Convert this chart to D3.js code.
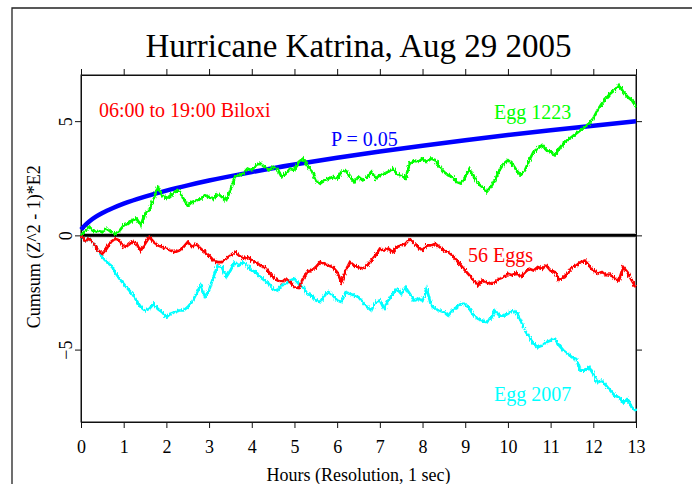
<!DOCTYPE html>
<html>
<head>
<meta charset="utf-8">
<script src="https://cdn.jsdelivr.net/npm/d3@7"></script>
<style>
  html, body { margin: 0; padding: 0; background: #fff; }
  svg { display: block; }
  text { font-family: "Liberation Serif", "Times New Roman", serif; }
</style>
</head>
<body>
<script>
// Cumulative deviation (Z^2 - 1), sampled every 6 minutes (0.1 h) from 0 to 13 h
const sampleStepHours = 0.1;

const egg1223 = [0, 0.2, 0.37, 0.15, 0.2, 0.15, 0.3, 0.15, 0.07, 0.2,
  0.44, 0.5, 0.66, 0.73, 0.44, 0.95, 1.1, 1.6, 2.1, 1.75,
  1.6, 1.75, 1.9, 1.97, 1.6, 1.3, 1.46, 1.53, 1.6, 1.75,
  1.68, 1.6, 1.83, 1.68, 1.53, 1.97, 2.56, 2.63, 2.7, 2.92,
  2.85, 3.07, 3.14, 3.0, 2.85, 3.0, 2.92, 2.56, 2.7, 2.92,
  2.85, 3.22, 3.36, 3.07, 2.85, 2.41, 2.27, 2.41, 2.49, 2.56,
  2.49, 2.78, 2.85, 2.56, 2.34, 2.56, 2.41, 2.56, 2.78, 2.49,
  2.63, 2.7, 2.78, 2.92, 2.7, 2.63, 2.49, 3.14, 3.29, 3.22,
  3.36, 3.22, 3.36, 3.29, 3.0, 2.78, 2.63, 2.56, 2.34, 2.27,
  2.56, 2.92, 2.56, 2.27, 2.12, 1.9, 2.12, 2.41, 2.85, 3.14,
  3.29, 3.14, 2.85, 2.63, 2.85, 3.29, 3.65, 3.8, 3.95, 3.73,
  3.65, 3.51, 3.8, 4.02, 4.17, 4.31, 4.46, 4.6, 4.75, 4.9,
  5.12, 5.48, 5.77, 6.0, 6.21, 6.36, 6.58, 6.29, 6.07, 5.92, 5.63];

const eggs56 = [-0.05, -0.22, -0.15, -0.37, -0.66, -0.8, -0.58, -0.29, -0.15, -0.22,
  -0.51, -0.44, -0.29, -0.37, -0.66, -0.37, -0.07, -0.29, -0.44, -0.51,
  -0.58, -0.66, -0.73, -0.66, -0.51, -0.29, -0.51, -0.37, -0.58, -0.73,
  -0.88, -1.1, -1.17, -1.17, -1.02, -0.88, -0.73, -0.88, -1.02, -0.95,
  -1.1, -1.17, -1.32, -1.39, -1.61, -1.83, -1.97, -2.05, -1.9, -2.05,
  -2.27, -2.3, -1.9, -1.6, -1.54, -1.39, -1.17, -1.24, -1.32, -1.39,
  -1.61, -2.05, -1.54, -1.17, -1.32, -1.39, -1.46, -1.32, -1.1, -0.88,
  -0.58, -0.66, -0.58, -0.73, -0.51, -0.44, -0.37, -0.15, -0.37, -0.51,
  -0.66, -0.44, -0.44, -0.37, -0.51, -0.66, -0.73, -0.88, -1.1, -1.32,
  -1.54, -1.75, -1.97, -2.19, -1.97, -2.05, -2.12, -2.05, -1.9, -1.83,
  -1.68, -1.75, -1.61, -1.83, -1.61, -1.46, -1.54, -1.39, -1.46, -1.32,
  -1.54, -1.61, -1.97, -1.83, -1.68, -1.39, -1.32, -1.17, -1.1, -1.32,
  -1.54, -1.68, -1.61, -1.75, -1.68, -1.9, -1.97, -1.39, -1.61, -1.97, -2.27];

const egg2007 = [-0.07, -0.22, -0.15, -0.37, -0.66, -0.95, -1.17, -1.32, -1.61, -1.9,
  -2.12, -2.34, -2.56, -2.85, -3.14, -3.29, -3.22, -3.0, -3.22, -3.36,
  -3.58, -3.43, -3.36, -3.29, -3.29, -3.14, -2.92, -2.56, -2.19, -2.7,
  -2.41, -1.83, -1.32, -1.39, -1.83, -1.54, -1.17, -1.32, -1.17, -1.32,
  -1.54, -1.61, -1.83, -1.97, -2.12, -2.34, -2.41, -2.19, -2.12, -1.97,
  -1.9, -2.12, -2.27, -2.56, -2.63, -2.85, -2.92, -2.63, -2.49, -2.63,
  -2.85, -2.92, -2.49, -2.56, -2.63, -2.7, -2.92, -3.14, -3.29, -2.92,
  -2.85, -3.22, -2.85, -2.56, -2.34, -2.56, -2.27, -2.56, -2.85, -2.78,
  -2.85, -2.34, -3.07, -3.22, -3.29, -3.36, -3.51, -3.29, -3.14, -3.0,
  -3.0, -3.22, -3.51, -3.65, -3.73, -3.8, -3.65, -3.29, -3.51, -3.51,
  -3.43, -3.29, -3.36, -3.73, -4.17, -4.46, -4.75, -4.9, -4.82, -4.68,
  -4.6, -4.53, -4.82, -5.04, -5.19, -5.34, -5.41, -5.92, -5.92, -5.77,
  -6.07, -6.43, -6.36, -6.58, -6.8, -7.02, -7.09, -7.31, -7.16, -7.53, -7.68];

// P = 0.05 envelope
const envelopeHours  = [0, 0.05, 0.1, 0.2, 0.35, 0.5, 0.75, 1, 1.5, 2, 2.5, 3, 4, 5, 6, 7, 8, 9, 10, 11, 12, 13];
const envelopeValues = [0.25, 0.35, 0.45, 0.62, 0.82, 0.98, 1.2, 1.39, 1.7, 1.96, 2.19, 2.4, 2.77, 3.1, 3.4, 3.67, 3.92, 4.16, 4.39, 4.6, 4.8, 5.0];

const hourTicks = [0, 1, 2, 3, 4, 5, 6, 7, 8, 9, 10, 11, 12, 13];
const valueTicks = [-5, 0, 5];

const W = 692, H = 484;
const margin = { left: 81, right: 56, top: 75, bottom: 62 };

const svg = d3.select("body").append("svg").attr("width", W).attr("height", H);

// fine-grained jitter so the per-second traces read as ragged strokes
const defs = svg.append("defs");
const rough = defs.append("filter").attr("id", "rough")
  .attr("x", "-2%").attr("y", "-5%").attr("width", "104%").attr("height", "110%");
rough.append("feTurbulence").attr("type", "fractalNoise")
  .attr("baseFrequency", "0.9 0.25").attr("numOctaves", 2).attr("seed", 7).attr("result", "noise");
rough.append("feDisplacementMap").attr("in", "SourceGraphic").attr("in2", "noise")
  .attr("scale", 4).attr("xChannelSelector", "R").attr("yChannelSelector", "G");

// page frame
svg.append("path")
  .attr("d", `M12,${H} L12,8 L${W},8`)
  .attr("fill", "none").attr("stroke", "#222").attr("stroke-width", 1.3);

const x = d3.scaleLinear().domain([0, 13]).range([margin.left, W - margin.right]);
const y = d3.scaleLinear().domain([-8.17, 7.02]).range([H - margin.bottom, margin.top]);

const tickLen = 6;

// axes on all four sides
svg.append("g").attr("transform", `translate(0,${y.range()[0]})`)
  .call(d3.axisBottom(x).tickValues(hourTicks).tickSize(tickLen).tickSizeOuter(0).tickPadding(12))
  .call(g => g.selectAll("text").attr("font-size", 18).attr("fill", "#000").attr("font-family", "Liberation Serif, serif"));
svg.append("g").attr("transform", `translate(0,${y.range()[1]})`)
  .call(d3.axisTop(x).tickValues(hourTicks).tickSize(tickLen).tickSizeOuter(0).tickFormat(""));
svg.append("g").attr("transform", `translate(${x.range()[0]},0)`)
  .call(d3.axisLeft(y).tickValues(valueTicks).tickSize(tickLen).tickSizeOuter(0))
  .call(g => g.selectAll("text")
    .attr("font-size", 18).attr("fill", "#000").attr("font-family", "Liberation Serif, serif")
    .attr("text-anchor", "middle").attr("dy", null).attr("x", null)
    .attr("transform", `translate(${-tickLen - 3},0) rotate(-90)`));
svg.append("g").attr("transform", `translate(${x.range()[1]},0)`)
  .call(d3.axisRight(y).tickValues(valueTicks).tickSize(tickLen).tickSizeOuter(0).tickFormat(""));
svg.selectAll(".domain").attr("stroke", "#111");
svg.selectAll(".tick line").attr("stroke", "#111");

// box edges (the axis domains skip the outer ticks)
svg.append("rect")
  .attr("x", x.range()[0]).attr("y", y.range()[1])
  .attr("width", x.range()[1] - x.range()[0]).attr("height", y.range()[0] - y.range()[1])
  .attr("fill", "none").attr("stroke", "#111").attr("stroke-width", 1);

// zero line
svg.append("line")
  .attr("x1", x(0)).attr("x2", x(13)).attr("y1", y(0)).attr("y2", y(0))
  .attr("stroke", "#bbb").attr("stroke-width", 4.5);
svg.append("line")
  .attr("x1", x(0)).attr("x2", x(13)).attr("y1", y(0)).attr("y2", y(0))
  .attr("stroke", "#000").attr("stroke-width", 2.6);

const plot = svg.append("g");

// envelope
plot.append("path")
  .datum(envelopeHours.map((h, i) => [h, envelopeValues[i]]))
  .attr("fill", "none").attr("stroke", "#0000ff").attr("stroke-width", 4.5)
  .attr("d", d3.line().x(d => x(d[0])).y(d => y(d[1])).curve(d3.curveMonotoneX));

const seriesLine = d3.line().x((d, i) => x(i * sampleStepHours)).y(d => y(d));
const series = [
  { values: egg2007, color: "#00ffff" },
  { values: eggs56,  color: "#ff0000" },
  { values: egg1223, color: "#00ff00" }
];
plot.selectAll("path.series").data(series).join("path")
  .attr("class", "series")
  .attr("fill", "none").attr("stroke", d => d.color).attr("stroke-width", 2.7)
  .attr("stroke-linejoin", "miter")
  .attr("filter", "url(#rough)")
  .attr("d", d => seriesLine(d.values));

// labels
const label = (txt, xx, yy, color, size, anchor) =>
  svg.append("text").text(txt).attr("x", xx).attr("y", yy)
    .attr("fill", color).attr("font-size", size).attr("text-anchor", anchor || "start");

label("Hurricane Katrina, Aug 29 2005", (x.range()[0] + x.range()[1]) / 2, 57, "#000", 33, "middle");
label("06:00 to 19:00 Biloxi", 99, 116.5, "#ff0000", 20);
label("P = 0.05", 331, 145.5, "#0000ff", 20);
label("Egg 1223", 494, 118.5, "#00ff00", 20);
label("56 Eggs", 468, 261.5, "#ff0000", 20);
label("Egg 2007", 494, 401, "#00ffff", 20);

label("Hours (Resolution, 1 sec)", (x.range()[0] + x.range()[1]) / 2, 481, "#000", 18, "middle");
svg.append("text").text("Cumsum (Z^2 - 1)*E2")
  .attr("transform", `translate(40,${y(-0.5)}) rotate(-90)`)
  .attr("text-anchor", "middle").attr("font-size", 18).attr("fill", "#000");
</script>
</body>
</html>
